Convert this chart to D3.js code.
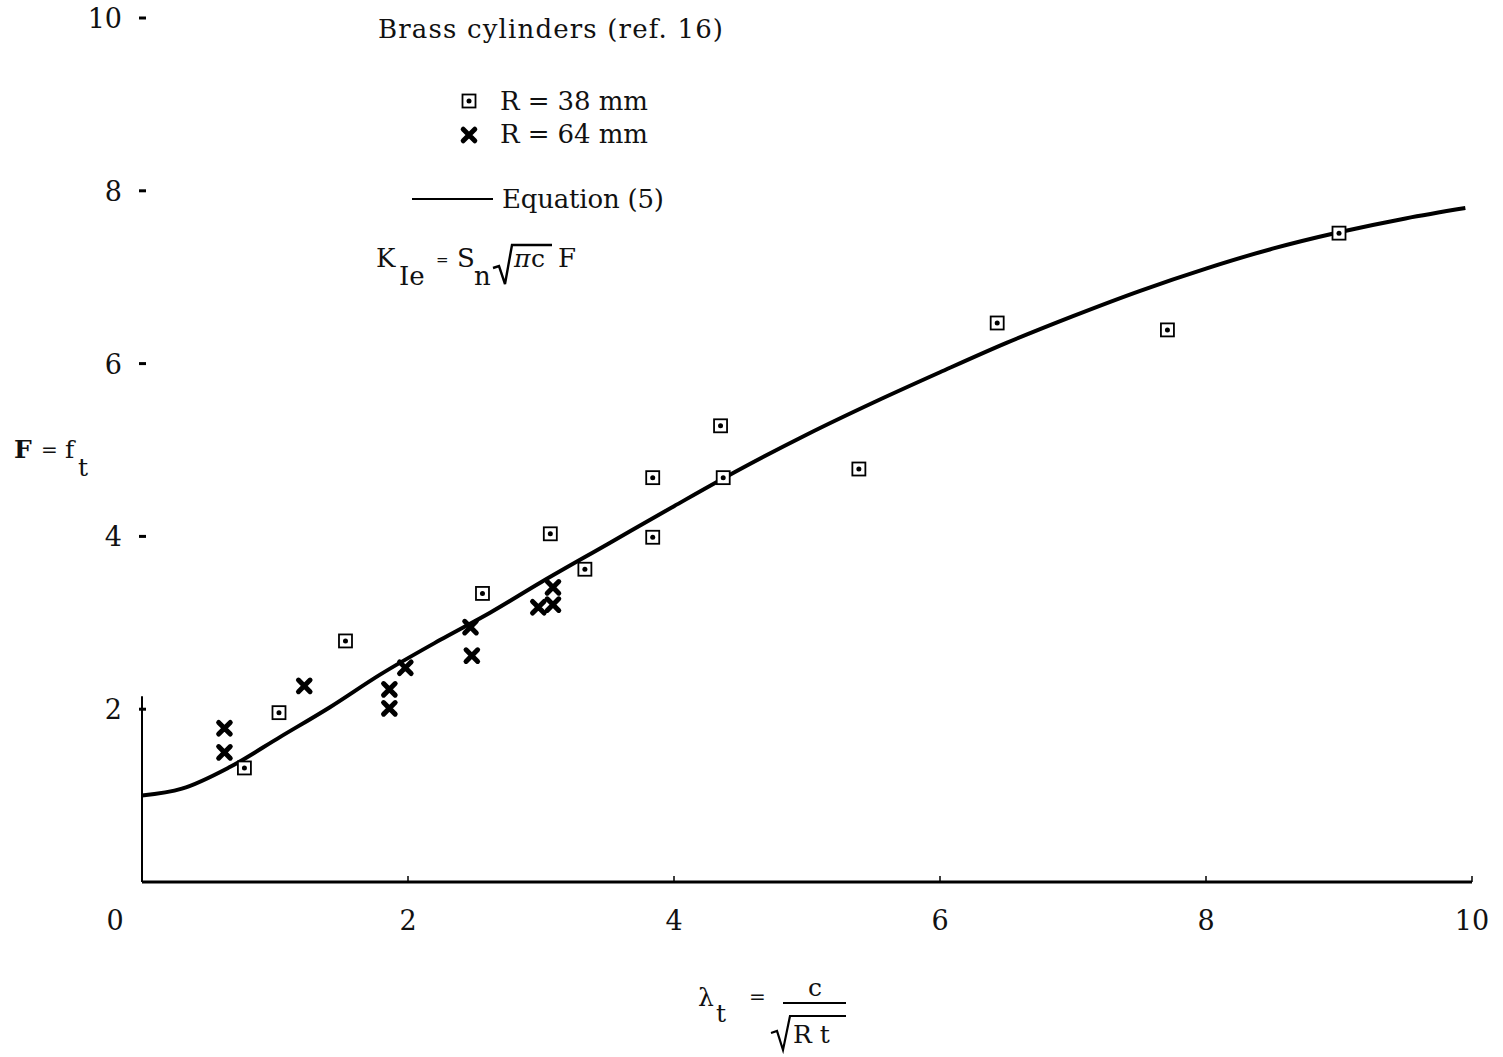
<!DOCTYPE html>
<html><head><meta charset="utf-8">
<script src="https://cdn.jsdelivr.net/npm/d3@7"></script>
<style>body{margin:0;background:#fff}svg text{font-family:"DejaVu Serif",serif;fill:#111}</style>
</head><body>
<svg id="c" width="1503" height="1057"></svg>
<script>
// Equation (5) curve
const curveX = [0, 0.3, 0.66, 1.04, 1.41, 1.79, 2.24, 2.62, 3.0, 3.5, 4.0, 4.5, 5.0, 5.5, 6.0, 6.5, 7.0, 7.5, 8.0, 8.5, 9.0, 9.5, 9.95];
const curveY = [1.0, 1.08, 1.33, 1.68, 2.02, 2.40, 2.80, 3.12, 3.47, 3.91, 4.35, 4.78, 5.18, 5.55, 5.90, 6.24, 6.55, 6.84, 7.10, 7.33, 7.52, 7.68, 7.80];
// R = 38 mm (squares)
const sqX = [0.77, 1.03, 1.53, 2.56, 3.07, 3.33, 3.84, 3.84, 4.35, 4.37, 5.39, 6.43, 7.71, 9.00];
const sqY = [1.32, 1.96, 2.79, 3.34, 4.03, 3.62, 4.68, 3.99, 5.28, 4.68, 4.78, 6.47, 6.39, 7.51];
// R = 64 mm (crosses)
const crX = [0.62, 0.62, 1.22, 1.86, 1.86, 1.98, 2.48, 2.47, 2.98, 3.09, 3.09];
const crY = [1.78, 1.50, 2.27, 2.23, 2.01, 2.48, 2.62, 2.95, 3.18, 3.41, 3.21];
const xTicks = [0, 2, 4, 6, 8, 10];
const yTicks = [2, 4, 6, 8, 10];

const svg = d3.select("#c");
const x = d3.scaleLinear().domain([0, 10]).range([142, 1472]);
const y = d3.scaleLinear().domain([0, 10]).range([882, 18]);

// axes
svg.append("line").attr("x1", x(0)).attr("x2", x(10)).attr("y1", y(0)).attr("y2", y(0))
  .attr("stroke", "#000").attr("stroke-width", 3);
svg.append("line").attr("x1", x(0)).attr("x2", x(0)).attr("y1", y(0)).attr("y2", y(2.15))
  .attr("stroke", "#000").attr("stroke-width", 2);

// x ticks
svg.selectAll(".xt").data(xTicks.slice(1)).enter().append("line")
  .attr("x1", d => x(d)).attr("x2", d => x(d)).attr("y1", y(0)).attr("y2", y(0) - 6)
  .attr("stroke", "#000").attr("stroke-width", 1.5);
svg.selectAll(".xl").data(xTicks).enter().append("text")
  .attr("x", d => d === 0 ? x(d) - 27 : x(d)).attr("y", 930)
  .attr("text-anchor", "middle").attr("font-size", 27).text(d => d);

// y ticks
svg.selectAll(".yt").data(yTicks).enter().append("line")
  .attr("x1", x(0) - 3).attr("x2", x(0) + 4).attr("y1", d => y(d)).attr("y2", d => y(d))
  .attr("stroke", "#000").attr("stroke-width", 3);
svg.selectAll(".yl").data(yTicks).enter().append("text")
  .attr("x", 122).attr("y", d => y(d) + 10)
  .attr("text-anchor", "end").attr("font-size", 27).text(d => d);

// curve
const pts = curveX.map((v, i) => [v, curveY[i]]);
svg.append("path").datum(pts)
  .attr("d", d3.line().x(d => x(d[0])).y(d => y(d[1])).curve(d3.curveMonotoneX))
  .attr("fill", "none").attr("stroke", "#000").attr("stroke-width", 4);

function square(g, cx, cy) {
  g.append("rect").attr("x", cx - 6.5).attr("y", cy - 6.5).attr("width", 13).attr("height", 13)
    .attr("fill", "#fff").attr("stroke", "#000").attr("stroke-width", 1.8);
  g.append("circle").attr("cx", cx).attr("cy", cy).attr("r", 2.5).attr("fill", "#000");
}
function cross(g, cx, cy) {
  const s = 5.8;
  g.append("path").attr("d", `M${cx - s},${cy - s}L${cx + s},${cy + s}M${cx + s},${cy - s}L${cx - s},${cy + s}`)
    .attr("stroke", "#000").attr("stroke-width", 5).attr("stroke-linecap", "round").attr("fill", "none");
}
const gs = svg.append("g");
sqX.forEach((v, i) => square(gs, x(v), y(sqY[i])));
const gc = svg.append("g");
crX.forEach((v, i) => cross(gc, x(v), y(crY[i])));

// legend / annotations
svg.append("text").attr("x", 378).attr("y", 38).attr("font-size", 26)
  .attr("textLength", 345).attr("lengthAdjust", "spacing").text("Brass cylinders (ref. 16)");
square(svg, 469, 101);
svg.append("text").attr("x", 500).attr("y", 110).attr("font-size", 26)
  .attr("textLength", 148).attr("lengthAdjust", "spacing").text("R = 38 mm");
cross(svg, 469, 135);
svg.append("text").attr("x", 500).attr("y", 143).attr("font-size", 26)
  .attr("textLength", 148).attr("lengthAdjust", "spacing").text("R = 64 mm");
svg.append("line").attr("x1", 412).attr("x2", 493).attr("y1", 199).attr("y2", 199)
  .attr("stroke", "#000").attr("stroke-width", 2);
svg.append("text").attr("x", 502).attr("y", 208).attr("font-size", 26)
  .attr("textLength", 162).attr("lengthAdjust", "spacing").text("Equation (5)");

// K_Ie = S_n sqrt(pi c) F
svg.append("text").attr("x", 376).attr("y", 267).attr("font-size", 26).text("K");
svg.append("text").attr("x", 399).attr("y", 285).attr("font-size", 26).text("Ie");
svg.append("text").attr("x", 436).attr("y", 265).attr("font-size", 15).text("=");
svg.append("text").attr("x", 457).attr("y", 267).attr("font-size", 26).text("S");
svg.append("text").attr("x", 474).attr("y", 285).attr("font-size", 26).text("n");
svg.append("path").attr("d", "M493,268 L499,266 L505,284 L512,245 L552,245")
  .attr("fill", "none").attr("stroke", "#000").attr("stroke-width", 2.4).attr("stroke-linejoin", "miter");
svg.append("text").attr("x", 514).attr("y", 267).attr("font-size", 25).attr("font-style", "italic").text("π");
svg.append("text").attr("x", 531).attr("y", 267).attr("font-size", 25).text("c");
svg.append("text").attr("x", 558).attr("y", 267).attr("font-size", 26).text("F");

// y label
svg.append("text").attr("x", 14).attr("y", 458).attr("font-size", 25).attr("font-weight", "bold").text("F");
svg.append("text").attr("x", 41).attr("y", 457).attr("font-size", 20).text("=");
svg.append("text").attr("x", 65).attr("y", 458).attr("font-size", 25).text("f");
svg.append("text").attr("x", 78).attr("y", 476).attr("font-size", 25).text("t");

// x label
svg.append("text").attr("x", 698).attr("y", 1006).attr("font-size", 25).text("λ");
svg.append("text").attr("x", 716).attr("y", 1022).attr("font-size", 25).text("t");
svg.append("text").attr("x", 749).attr("y", 1004).attr("font-size", 20).text("=");
svg.append("text").attr("x", 815).attr("y", 996).attr("font-size", 25).attr("text-anchor", "middle").text("c");
svg.append("line").attr("x1", 783).attr("x2", 846).attr("y1", 1003).attr("y2", 1003)
  .attr("stroke", "#000").attr("stroke-width", 2.2);
svg.append("path").attr("d", "M771,1033 L777,1031 L783,1050 L790,1016 L846,1016")
  .attr("fill", "none").attr("stroke", "#000").attr("stroke-width", 2.2);
svg.append("text").attr("x", 793).attr("y", 1043).attr("font-size", 25).text("R t");
</script>
</body></html>
